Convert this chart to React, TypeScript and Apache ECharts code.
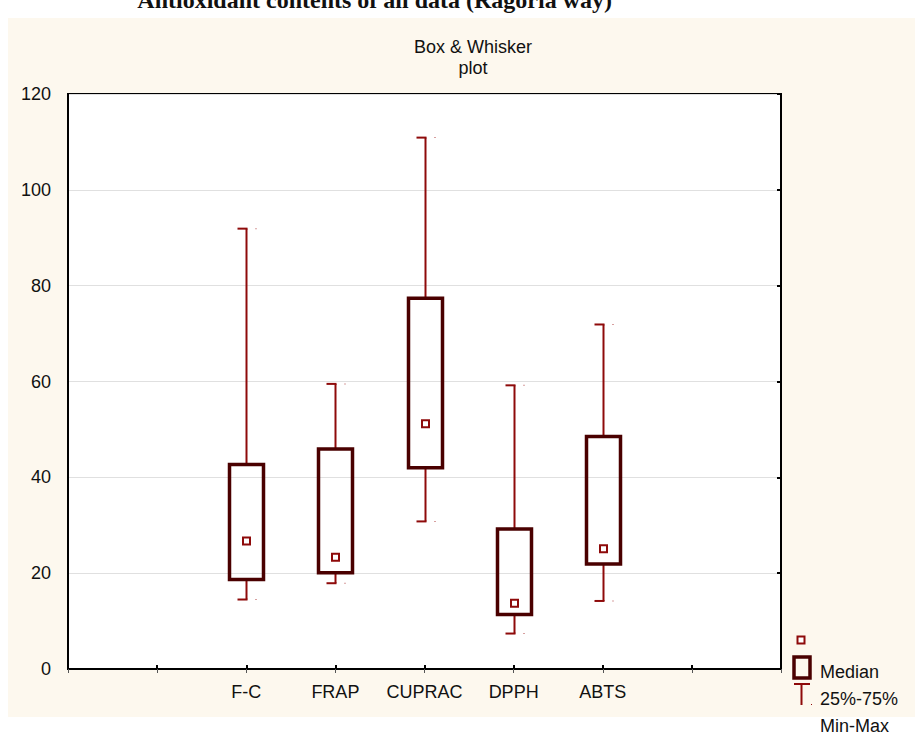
import React, { useEffect, useRef } from "react";
import * as echarts from "echarts";

const categories = ["", "", "F-C", "FRAP", "CUPRAC", "DPPH", "ABTS", "", ""];
const boxCategories = ["F-C", "FRAP", "CUPRAC", "DPPH", "ABTS"];
const minValues = [14.5, 17.9, 30.8, 7.4, 14.2];
const q1Values = [18.7, 20.1, 42.0, 11.4, 21.9];
const medianValues = [26.7, 23.3, 51.2, 13.7, 25.1];
const q3Values = [42.7, 45.9, 77.4, 29.2, 48.5];
const maxValues = [91.9, 59.5, 110.9, 59.2, 71.9];
const yTicks = [0, 20, 40, 60, 80, 100, 120];
const legendLabels = ["Median", "25%-75%", "Min-Max"];
const titleLines = ["Box & Whisker", "plot"];

const BOX = "#4a0000";
const WHISK = "#8e0a0a";
const FONT = "'Liberation Sans', Arial, sans-serif";
const FS = 18;

export default function App() {
  const ref = useRef<HTMLDivElement>(null);
  useEffect(() => {
    if (!ref.current) return;
    const chart = echarts.init(ref.current, null, { renderer: "svg" });
    const data = boxCategories.map((c, i) => [
      categories.indexOf(c),
      minValues[i],
      q1Values[i],
      medianValues[i],
      q3Values[i],
      maxValues[i],
    ]);
    const option: any = {
      animation: false,
      backgroundColor: "#ffffff",
      textStyle: { fontFamily: FONT },
      graphic: [
        {
          type: "rect",
          z: -10,
          silent: true,
          shape: { x: 8, y: 18, width: 907, height: 699 },
          style: { fill: "#fdf8ee" },
        },
        {
          type: "text",
          x: 612,
          y: 12,
          style: {
            text: "Antioxidant contents of all data (Ragoria way)",
            font: "bold 24px 'Liberation Serif', 'Times New Roman', serif",
            fill: "#111",
            textAlign: "right",
            textVerticalAlign: "bottom",
          },
        },
        {
          type: "text",
          x: 473,
          y: 47,
          style: {
            text: titleLines[0],
            font: `${FS}px ${FONT}`,
            fill: "#111",
            textAlign: "center",
            textVerticalAlign: "middle",
          },
        },
        {
          type: "text",
          x: 473,
          y: 68,
          style: {
            text: titleLines[1],
            font: `${FS}px ${FONT}`,
            fill: "#111",
            textAlign: "center",
            textVerticalAlign: "middle",
          },
        },
        // legend symbols
        {
          type: "rect",
          shape: { x: 797.5, y: 636.5, width: 7, height: 7 },
          style: { fill: "#fff", stroke: WHISK, lineWidth: 2 },
        },
        {
          type: "rect",
          shape: { x: 794, y: 657, width: 16, height: 21 },
          style: { fill: "none", stroke: BOX, lineWidth: 3.5 },
        },
        {
          type: "line",
          shape: { x1: 794, y1: 684, x2: 810, y2: 684 },
          style: { stroke: WHISK, lineWidth: 2 },
        },
        {
          type: "line",
          shape: { x1: 801.5, y1: 684, x2: 801.5, y2: 705 },
          style: { stroke: WHISK, lineWidth: 2 },
        },
        {
          type: "rect",
          shape: { x: 811, y: 704, width: 1, height: 1 },
          style: { fill: WHISK },
        },
        ...legendLabels.map((t, i) => ({
          type: "text",
          x: 820,
          y: 672 + i * 27,
          style: {
            text: t,
            font: `${FS}px ${FONT}`,
            fill: "#111",
            textAlign: "left",
            textVerticalAlign: "middle",
          },
        })),
      ],
      grid: {
        left: 68,
        right: 134,
        top: 94,
        bottom: 67,
        show: true,
        backgroundColor: "#ffffff",
        borderColor: "#000",
        borderWidth: 2,
        containLabel: false,
      },
      xAxis: [
        {
          type: "category",
          data: categories,
          boundaryGap: false,
          position: "bottom",
          axisLine: { show: true, lineStyle: { color: "#000", width: 2 } },
          axisTick: {
            show: true,
            inside: true,
            length: 4,
            alignWithLabel: true,
            interval: 0,
            lineStyle: { color: "#000", width: 2 },
          },
          axisLabel: {
            interval: 0,
            margin: 14,
            color: "#111",
            fontSize: FS,
            fontFamily: FONT,
          },
          splitLine: { show: false },
        },
        {
          type: "category",
          data: categories,
          boundaryGap: false,
          position: "top",
          axisLine: { show: true, lineStyle: { color: "#000", width: 2 } },
          axisTick: {
            show: true,
            inside: true,
            length: 4,
            interval: 0,
            lineStyle: { color: "#555", width: 1 },
          },
          axisLabel: { show: false },
          splitLine: { show: false },
        },
      ],
      yAxis: [
        {
          type: "value",
          min: yTicks[0],
          max: yTicks[yTicks.length - 1],
          interval: 20,
          position: "left",
          axisLine: { show: true, lineStyle: { color: "#000", width: 2 } },
          axisTick: { show: false },
          axisLabel: {
            margin: 17,
            color: "#111",
            fontSize: FS,
            fontFamily: FONT,
          },
          splitLine: { show: true, lineStyle: { color: "#e0e0e0", width: 1 } },
        },
        {
          type: "value",
          min: yTicks[0],
          max: yTicks[yTicks.length - 1],
          interval: 20,
          position: "right",
          axisLine: { show: true, lineStyle: { color: "#000", width: 2 } },
          axisTick: {
            show: true,
            inside: true,
            length: 4,
            lineStyle: { color: "#000", width: 2 },
          },
          axisLabel: { show: false },
          splitLine: { show: false },
        },
      ],
      series: [
        {
          type: "custom",
          xAxisIndex: 0,
          yAxisIndex: 0,
          data,
          renderItem: (params: any, api: any) => {
            const x = api.value(0);
            const pMin = api.coord([x, api.value(1)]);
            const pQ1 = api.coord([x, api.value(2)]);
            const pMed = api.coord([x, api.value(3)]);
            const pQ3 = api.coord([x, api.value(4)]);
            const pMax = api.coord([x, api.value(5)]);
            const cx = Math.round(pMin[0]) + 0.5;
            const hw = 17;
            return {
              type: "group",
              children: [
                {
                  type: "line",
                  shape: { x1: cx, y1: pMax[1], x2: cx, y2: pQ3[1] },
                  style: { stroke: WHISK, lineWidth: 2 },
                },
                {
                  type: "line",
                  shape: { x1: cx, y1: pQ1[1], x2: cx, y2: pMin[1] },
                  style: { stroke: WHISK, lineWidth: 2 },
                },
                {
                  type: "line",
                  shape: { x1: cx - 9, y1: pMax[1], x2: cx + 1, y2: pMax[1] },
                  style: { stroke: WHISK, lineWidth: 2 },
                },
                {
                  type: "line",
                  shape: { x1: cx - 9, y1: pMin[1], x2: cx + 1, y2: pMin[1] },
                  style: { stroke: WHISK, lineWidth: 2 },
                },
                {
                  type: "rect",
                  shape: { x: cx + 9, y: pMax[1] - 0.5, width: 1, height: 1 },
                  style: { fill: "#b04040" },
                },
                {
                  type: "rect",
                  shape: { x: cx + 9, y: pMin[1] - 0.5, width: 1, height: 1 },
                  style: { fill: "#b04040" },
                },
                {
                  type: "rect",
                  shape: {
                    x: cx - hw,
                    y: pQ3[1],
                    width: hw * 2,
                    height: pQ1[1] - pQ3[1],
                  },
                  style: { fill: "none", stroke: BOX, lineWidth: 3.5 },
                },
                {
                  type: "rect",
                  shape: { x: cx - 3.5, y: pMed[1] - 3.5, width: 7, height: 7 },
                  style: { fill: "#fff", stroke: WHISK, lineWidth: 2 },
                },
              ],
            };
          },
        },
      ],
    };
    chart.setOption(option);
    return () => chart.dispose();
  }, []);
  return (
    <div
      ref={ref}
      style={{ position: "fixed", left: 0, top: 0, width: 915, height: 736 }}
    />
  );
}
